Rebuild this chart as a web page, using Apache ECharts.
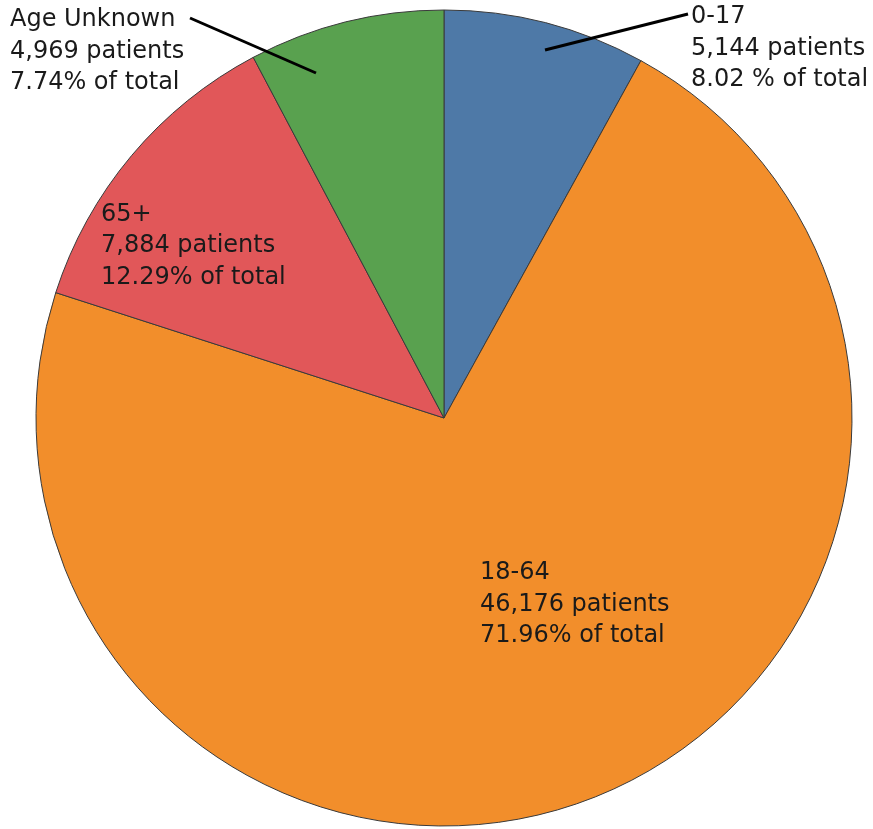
<!DOCTYPE html>
<html>
<head>
<meta charset="utf-8">
<script src="https://cdn.jsdelivr.net/npm/echarts@6/dist/echarts.min.js"></script>
<style>
  html, body { margin: 0; padding: 0; background: #fff; }
  #chart { width: 873px; height: 829px; }
</style>
</head>
<body>
<div id="chart"></div>
<script>
// Patients by age group
const groups = ['0-17', '18-64', '65+', 'Age Unknown'];
const patients = [5144, 46176, 7884, 4969];
const shareText = ['8.02 %', '71.96%', '12.29%', '7.74%'];
const colors = ['#4e79a7', '#f28e2b', '#e15759', '#59a14f'];

// Label anchors (top-left of each text block) and leader lines
const labelBoxes = [
  { x: 691, y: 1.5, line: [[545, 50], [688, 14]] },
  { x: 480, y: 557.5 },
  { x: 101, y: 199 },
  { x: 10, y: 4.5, line: [[316, 73], [190, 18]] }
];

const fmt = n => n.toLocaleString('en-US');

const pieGeom = {
  type: 'pie',
  center: [444, 418],
  radius: 408,
  startAngle: 90,
  clockwise: true,
  avoidLabelOverlap: false
};

const chart = echarts.init(document.getElementById('chart'), null, { renderer: 'canvas' });

chart.setOption({
  animation: false,
  series: [
    // slices
    Object.assign({}, pieGeom, {
      z: 2,
      itemStyle: { borderColor: '#3a3a3a', borderWidth: 1 },
      label: { show: false },
      labelLine: { show: false },
      data: groups.map((g, i) => ({ name: g, value: patients[i], itemStyle: { color: colors[i] } }))
    }),
    // labels and leader lines, drawn above the slices
    Object.assign({}, pieGeom, {
      z: 3,
      silent: true,
      emphasis: { disabled: true },
      itemStyle: { color: 'rgba(0,0,0,0)', borderWidth: 0 },
      label: {
        fontFamily: 'DejaVu Sans',
        fontSize: 24,
        lineHeight: 31.5,
        color: '#1a1a1a',
        align: 'left',
        formatter: p => p.name + '\n' + fmt(p.value) + ' patients\n' + shareText[p.dataIndex] + ' of total'
      },
      labelLine: {
        showAbove: true,
        lineStyle: { color: '#000', width: 3 }
      },
      labelLayout: p => {
        const b = labelBoxes[p.dataIndex];
        const o = { x: b.x, y: b.y, align: 'left', verticalAlign: 'top' };
        if (b.line) o.labelLinePoints = [b.line[0], b.line[0], b.line[1]];
        return o;
      },
      data: groups.map((g, i) => ({
        name: g,
        value: patients[i],
        label: { position: labelBoxes[i].line ? 'outside' : 'inside' },
        labelLine: { show: !!labelBoxes[i].line }
      }))
    })
  ]
});
</script>
</body>
</html>
